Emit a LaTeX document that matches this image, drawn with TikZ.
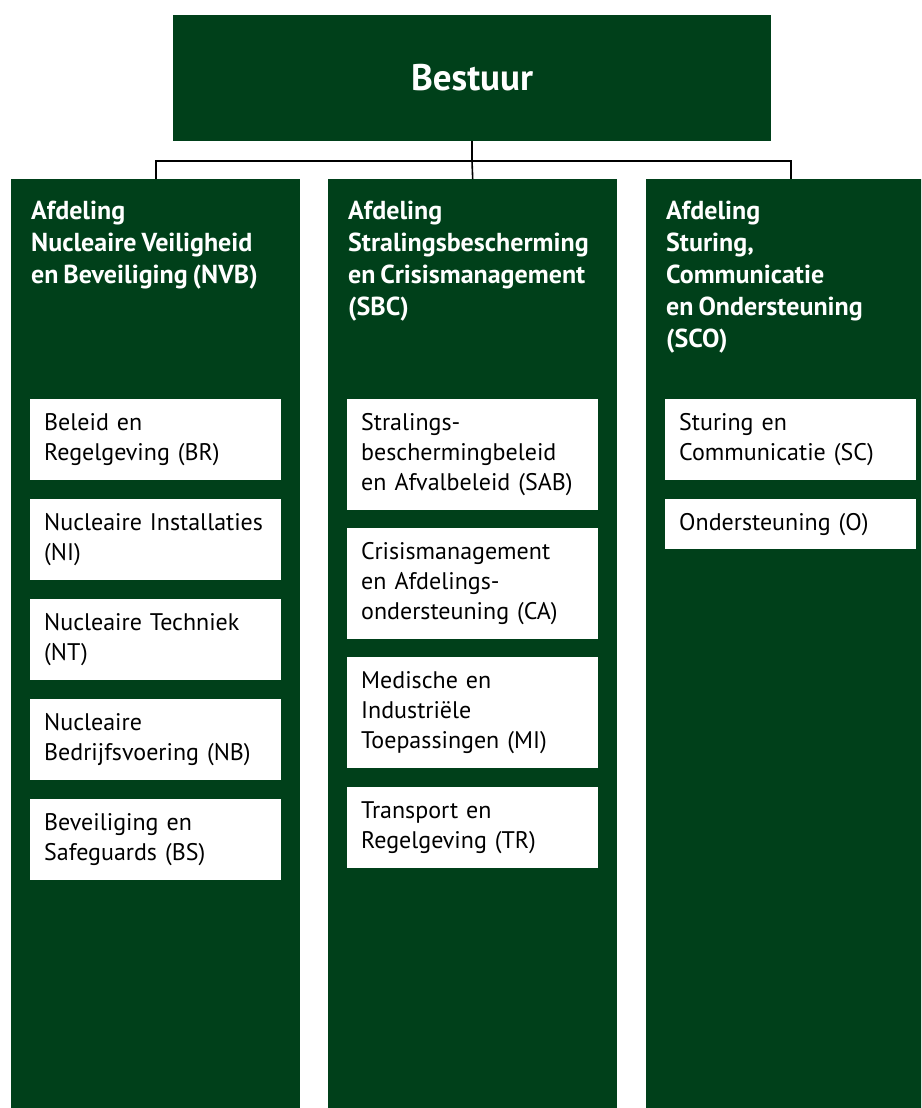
\documentclass[tikz,border=0pt]{standalone}
\usepackage{fontspec}
\setmainfont{PT Sans}[WordSpace=0.75]
\usetikzlibrary{positioning}
\definecolor{rijksgreen}{HTML}{00401A}

\begin{document}
\begin{tikzpicture}[x=1pt, y=-1pt,
    board/.style={rectangle, fill=rijksgreen, text=white, font=\bfseries\fontsize{37}{42}\selectfont, minimum width=598pt, minimum height=126pt, inner sep=0pt},
    dept/.style={rectangle, fill=rijksgreen, minimum width=289pt, minimum height=960pt, anchor=north west, inner sep=0pt},
    depttitle/.style={anchor=north west, inner sep=0pt, text=white, align=left, font=\bfseries\fontsize{26}{32}\selectfont},
    unit/.style={rectangle, fill=white, anchor=north west, text width=223pt, inner xsep=14pt, inner ysep=0pt, align=left, font=\fontsize{24}{30}\selectfont},
    connector/.style={draw=black, line width=1.6pt}]
\clip (0,0) rectangle (921,1108);

% Board
\node[board] (bestuur) at (472,78) {Bestuur};

% Departments
\node[dept] (nvb) at (11,179) {};
\node[dept] (sbc) at (328,179) {};
\node[dept] (sco) at (646,179) {};

\node[depttitle] (nvbtitle) at (31,201) {Afdeling\\Nucleaire Veiligheid\\en Beveiliging (NVB)};
\node[depttitle] (sbctitle) at (348,201) {Afdeling\\Stralingsbescherming\\en Crisismanagement\\(SBC)};
\node[depttitle] (scotitle) at (666,201) {Afdeling\\Sturing,\\Communicatie\\en Ondersteuning\\(SCO)};

% Units NVB
\node[unit, minimum height=81pt] (br) at (30,399) {Beleid en\\Regelgeving (BR)};
\node[unit, minimum height=81pt] (ni) at (30,499) {\mbox{Nucleaire Installaties}\\(NI)};
\node[unit, minimum height=81pt] (nt) at (30,599) {Nucleaire Techniek\\(NT)};
\node[unit, minimum height=81pt] (nb) at (30,699) {Nucleaire\\\mbox{Bedrijfsvoering (NB)}};
\node[unit, minimum height=81pt] (bs) at (30,799) {Beveiliging en\\Safeguards (BS)};

% Units SBC
\node[unit, minimum height=111pt] (sab) at (347,399) {Stralings-\\beschermingbeleid\\\mbox{en Afvalbeleid (SAB)}};
\node[unit, minimum height=111pt] (ca) at (347,528) {Crisismanagement\\en Afdelings-\\ondersteuning (CA)};
\node[unit, minimum height=111pt] (mi) at (347,657) {Medische en\\Industriële\\\mbox{Toepassingen (MI)}};
\node[unit, minimum height=81pt] (tr) at (347,787) {Transport en\\Regelgeving (TR)};

% Units SCO
\node[unit, minimum height=81pt] (sc) at (665,399) {Sturing en\\\mbox{Communicatie (SC)}};
\node[unit, minimum height=50pt] (o) at (665,499) {Ondersteuning (O)};

% Draw connections
\coordinate (split) at (472,161);
\draw[connector] (bestuur.south) -- (split);
\draw[connector] (nvb.north) |- (split) -| (sco.north);
\draw[connector] (split) -- (sbc.north);

\end{tikzpicture}
\end{document}
